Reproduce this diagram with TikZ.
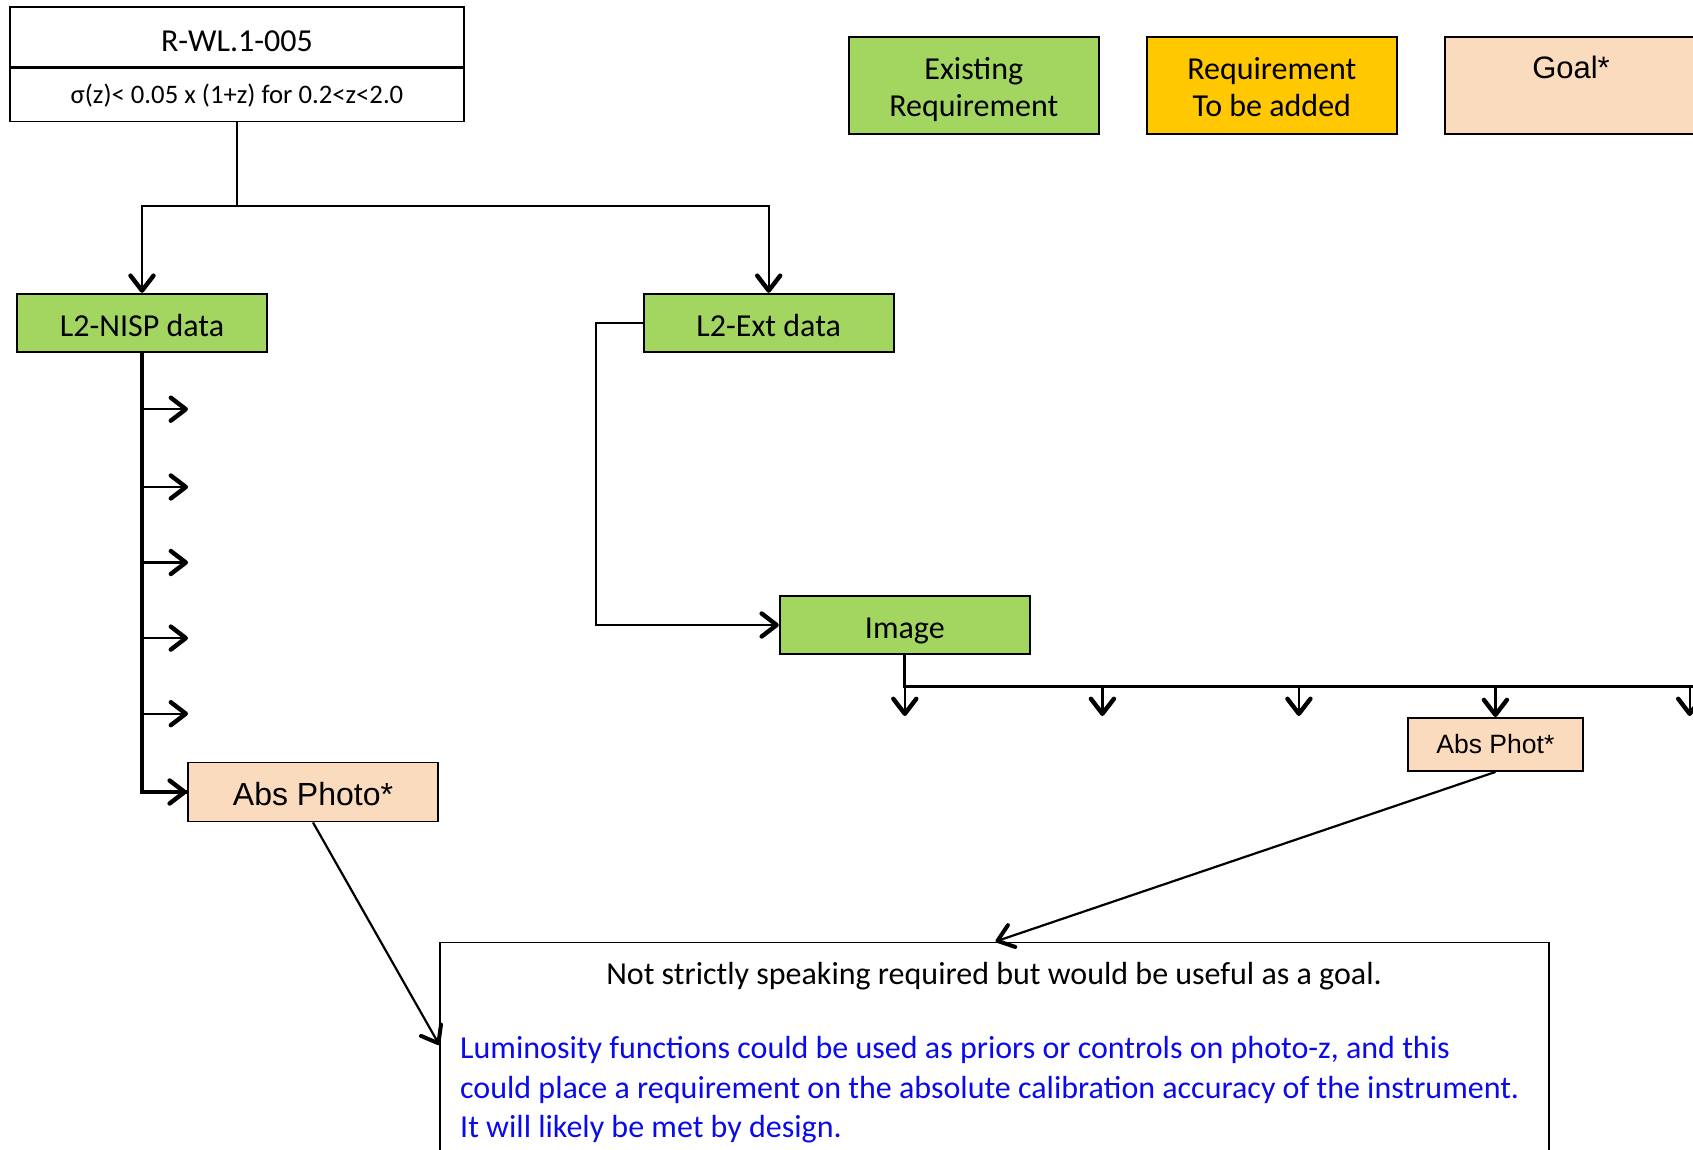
\documentclass[tikz,border=0pt]{standalone}
\usepackage{fontspec}
\setmainfont{Carlito}
\newfontfamily\arialfont{Liberation Sans}
\usetikzlibrary{arrows.meta}
\definecolor{reqgreen}{RGB}{162,214,96}
\definecolor{reqyellow}{RGB}{255,200,0}
\definecolor{goalpeach}{RGB}{251,219,190}
\definecolor{noteblue}{RGB}{10,10,235}
\newcommand\txtL{\fontsize{32}{37}\selectfont}
\newcommand\txtNote{\fontsize{32}{39}\selectfont}
\begin{document}
\begin{tikzpicture}[x=1pt,y=-1pt,
  box/.style={draw=black, line width=1.9pt, inner sep=0pt, minimum height=58pt},
  lowtext/.style={text height=27pt, text depth=0pt},
  greenbox/.style={box, fill=reqgreen, minimum width=250pt, font=\txtL, lowtext},
  peachbox/.style={box, fill=goalpeach},
  conn/.style={line width=2.4pt},
  thickconn/.style={line width=3.2pt},
  arr/.style={conn, -{Straight Barb[round,length=15pt,width=23pt,line width=4.4pt]}},
  thinarr/.style={line width=2.2pt, -{Straight Barb[round,length=15pt,width=23pt,line width=4pt]}}]
\useasboundingbox (0,0) rectangle (1693,1150);
\clip (0,0) rectangle (1693,1150);

% top requirement
\node[box, minimum width=454pt, minimum height=60pt, font=\fontsize{32}{40}\selectfont, text height=29pt, text depth=0pt] (rwl) at (237,37) {R-WL.1-005};
\node[box, line width=1.5pt, minimum width=454pt, minimum height=53pt, anchor=north, font=\fontsize{26.7}{34}\selectfont] (rwlsub) at (rwl.south) {σ(z)< 0.05 x (1+z) for 0.2<z<2.0};

% legend
\node[box, fill=reqgreen, minimum width=250pt, minimum height=97pt] (leg1) at (973.8,85.3) {};
\node[align=center, font=\txtL] (leg1t) at (973.8,89.8) {Existing\\Requirement};
\node[box, fill=reqyellow, minimum width=250pt, minimum height=97pt] (leg2) at (1271.8,85.3) {};
\node[align=center, font=\txtL] (leg2t) at (1271.8,87.5) {Requirement\\To be added};
\node[peachbox, minimum width=250pt, minimum height=97pt] (leg3) at (1570,85.3) {};
\node[font=\arialfont\fontsize{31}{37}\selectfont] (leg3t) at (1571,67) {Goal*};

% data nodes
\node[greenbox] (nisp) at (142,322.8) {L2-NISP data};
\node[greenbox] (ext) at (768.7,322.8) {L2-Ext data};
\node[greenbox] (img) at (904.8,625) {Image};
\node[peachbox, minimum width=250.5pt, minimum height=59pt, font=\arialfont\fontsize{32}{38}\selectfont, text height=27pt, text depth=0pt] (absphoto) at (313,792) {Abs Photo*};
\node[peachbox, minimum width=175pt, minimum height=53pt, font=\arialfont\fontsize{26.5}{32}\selectfont] (absphot) at (1495.4,744.5) {Abs Phot*};

% note
\node[box, anchor=north west, minimum width=1109pt, minimum height=260pt] (note) at (439.4,941.5) {};
\node[font=\txtNote, anchor=base] (notetitle) at (994,984) {Not strictly speaking required but would be useful as a goal.};
\node[font=\txtNote, text=noteblue, anchor=base west, inner sep=0pt] (notel1) at (460,1058) {Luminosity functions could be used as priors or controls on photo-z, and this};
\node[font=\txtNote, text=noteblue, anchor=base west, inner sep=0pt] (notel2) at (460,1098) {could place a requirement on the absolute calibration accuracy of the instrument.};
\node[font=\txtNote, text=noteblue, anchor=base west, inner sep=0pt] (notel3) at (460,1137) {It will likely be met by design.};

% connectors from top
\coordinate (splity) at (0,206);
\coordinate (split) at (rwlsub.south |- splity);
\draw[conn] (rwlsub.south) -- (split);
\draw[arr] (split) -| (nisp.north);
\draw[arr] (split) -| (ext.north);

% NISP branches
\draw[thickconn] (nisp.south) |- (absphoto.west);
\draw[arr] (nisp.south |- absphoto.west) -- (absphoto.west);
\foreach \yy [count=\i] in {409.2,487,562.5,638.1,713.7}{
  \coordinate (b\i) at (188,\yy);
  \draw[arr] (nisp.south |- b\i) -- (b\i);
}

% Ext to Image
\coordinate (extbend) at (596,322.8);
\draw[arr] (ext.west) -- (extbend) |- (img.west);

% Image branches
\coordinate (hbar) at (0,686.7);
\coordinate (hend) at (1700,686.7);
\draw[thickconn] (img.south) -- (img.south |- hbar) -- (hend);
\coordinate (t1) at (904.8,716);
\coordinate (t2) at (1102.4,716);
\coordinate (t3) at (1298.9,716);
\coordinate (t5) at (1689.7,716);
\draw[arr] (img.south) -- (t1);
\foreach \t in {t2,t3,t5}{
  \draw[arr] (\t |- hbar) -- (\t);
}
\draw[arr] (absphot.north |- hbar) -- (absphot.north);

% to note
\coordinate (n1) at (995.5,941.5);
\coordinate (n2) at (439.4,1045);
\draw[thinarr] (absphot.south) -- (n1);
\draw[thinarr] (absphoto.south) -- (n2);
\end{tikzpicture}
\end{document}
